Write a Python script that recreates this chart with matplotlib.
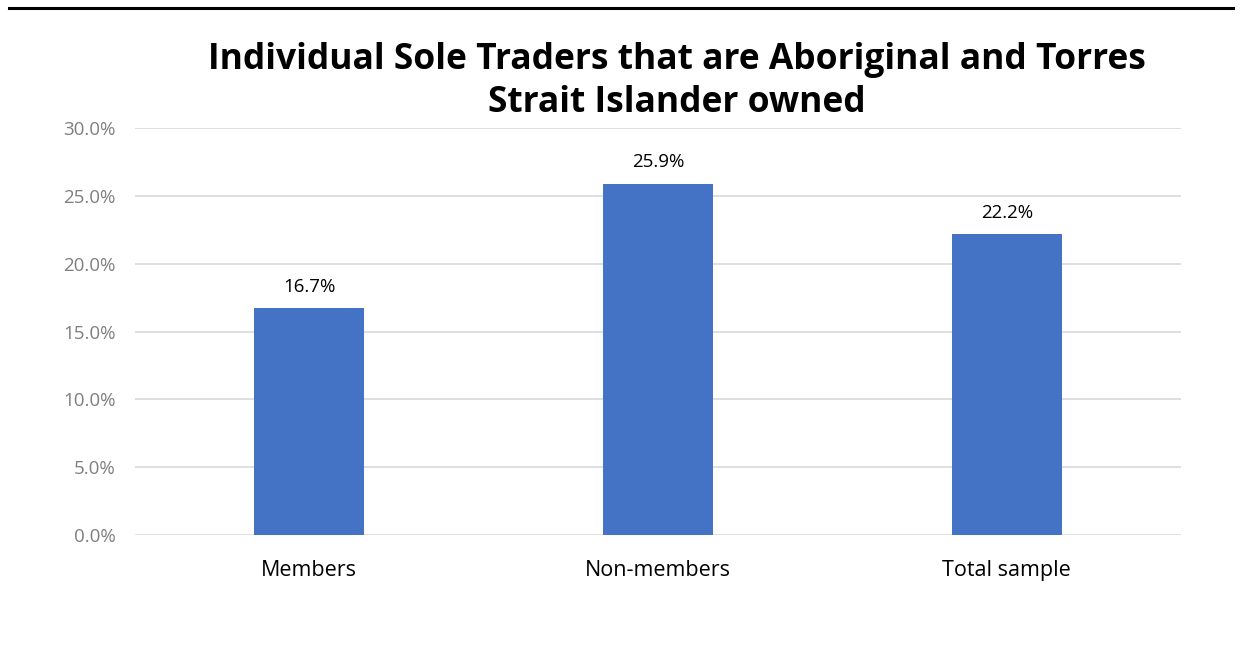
import matplotlib
matplotlib.use("Agg")
import matplotlib.pyplot as plt
from matplotlib.lines import Line2D
from matplotlib.ticker import PercentFormatter

plt.rcParams['font.family'] = ['Open Sans', 'DejaVu Sans']

categories = ['Members', 'Non-members', 'Total sample']
values = [16.7, 25.9, 22.2]
yticks = [0, 5, 10, 15, 20, 25, 30]

fig = plt.figure(figsize=(12.42, 6.52), dpi=100)
ax = fig.add_axes([0.1087, 0.1794, 0.8423, 0.6243])

x = range(len(categories))
bars = ax.bar(x, values, width=0.315, color='#4472C4', zorder=3)
for b, v in zip(bars, values):
    ax.text(b.get_x() + b.get_width() / 2, v + 0.9, '{:.1f}%'.format(v),
            ha='center', va='bottom', fontsize=13.5, color='#000000')

ax.set_xlim(-0.5, 2.5)
ax.set_ylim(0, 30)
ax.set_yticks(yticks)
ax.yaxis.set_major_formatter(PercentFormatter(decimals=1))
ax.set_xticks(list(x))
ax.set_xticklabels(categories, fontsize=15.5, color='#000000')
ax.tick_params(axis='y', labelsize=13.5, colors='#7F7F7F', length=0, pad=14)
ax.tick_params(axis='x', length=0, pad=18)
ax.grid(axis='y', color='#D9D9D9', linewidth=1.2, zorder=0)
for s in ax.spines.values():
    s.set_visible(False)

fig.text(0.545, 0.875, 'Individual Sole Traders that are Aboriginal and Torres\nStrait Islander owned',
         ha='center', va='center', fontsize=25.5, fontweight='bold', linespacing=1.27)

fig.add_artist(Line2D([0.007, 0.993], [0.988, 0.988], color='black', linewidth=2.2,
                      transform=fig.transFigure))

fig.savefig('out.png', dpi=100)
